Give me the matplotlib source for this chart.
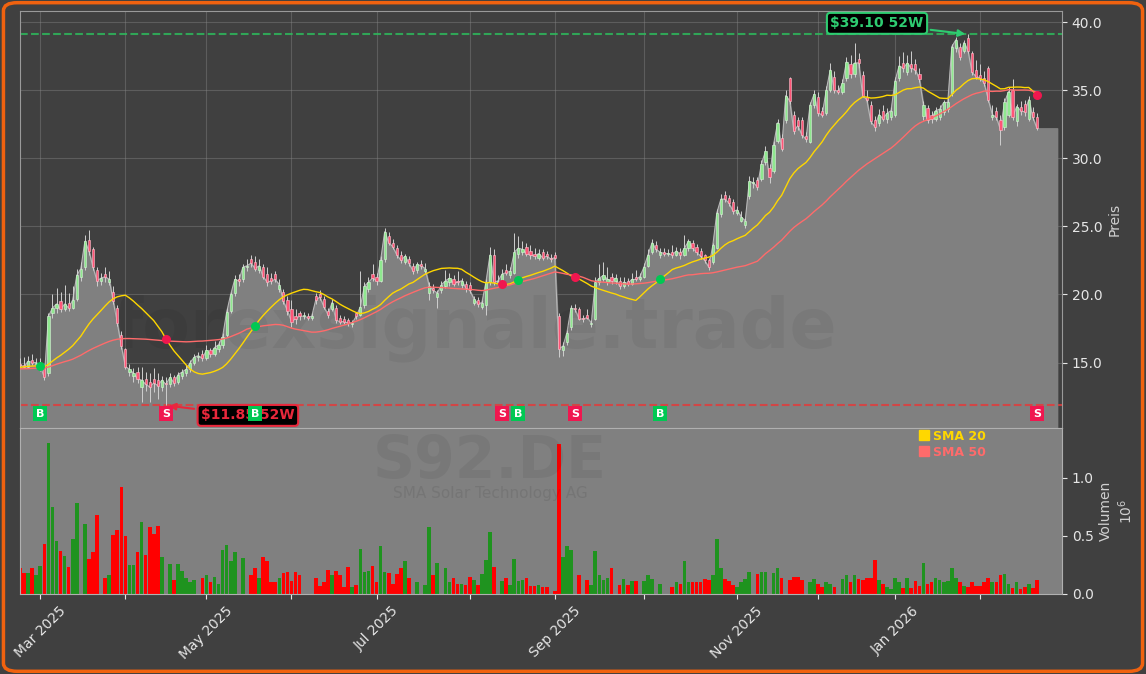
import numpy as np
import pandas as pd
import matplotlib
matplotlib.use("Agg")
import matplotlib.pyplot as plt
from matplotlib.lines import Line2D
from matplotlib.patches import FancyBboxPatch
from matplotlib.ticker import FuncFormatter, FormatStrFormatter

ticker = "S92.DE"
company = "SMA Solar Technology AG"
watermark = "forexsignale.trade"

# Xetra closing days inside the range
holidays = ["2025-04-18", "2025-04-21", "2025-05-01", "2025-12-24",
            "2025-12-25", "2025-12-26", "2025-12-31", "2026-01-01"]

# closes before the visible range (only used for the moving averages)
pre_closes = [14.2, 14.5, 14.1, 13.9, 14.3, 14.6, 14.4, 14.0, 13.8, 14.2,
              14.7, 14.9, 14.5, 14.3, 14.6, 15.0, 14.8, 14.4, 14.2, 14.5,
              14.9, 15.2, 14.8, 14.6, 14.3, 14.1, 14.4, 14.7, 14.5, 14.2,
              14.0, 14.3, 14.6, 14.8, 15.1, 14.9, 14.6, 14.4, 14.7, 15.0,
              14.8, 14.5, 14.3, 14.6, 14.9, 14.7, 14.5, 14.6, 14.8]

opens = [14.9, 14.8, 14.7, 15.2, 14.9, 14.5, 14.7, 14.2, 18.6, 19.0,
         19.5, 18.9, 19.4, 19.0, 19.7, 21.3, 22.0, 24.0, 23.3, 21.8,
         21.0, 21.5, 20.9, 20.2, 19.0, 17.0, 16.0, 14.3, 14.0, 14.3,
         13.2, 13.8, 13.6, 13.8, 13.7, 13.2, 13.5, 13.4, 13.9, 13.6,
         14.0, 14.2, 14.5, 15.0, 15.4, 15.6, 15.3, 15.9, 15.6, 16.0,
         16.3, 17.0, 18.8, 20.1, 21.1, 21.1, 22.0, 22.6, 22.4, 21.8,
         22.0, 21.5, 21.2, 21.5, 20.4, 20.2, 19.6, 18.9, 18.4, 18.6,
         18.4, 18.4, 18.3, 19.9, 20.0, 19.7, 18.8, 18.9, 19.0, 18.3,
         18.2, 18.1, 17.8, 18.6, 18.5, 19.2, 20.4, 21.5, 21.3, 21.0,
         22.6, 24.3, 23.8, 23.4, 22.9, 22.4, 22.6, 22.1, 21.8, 22.2,
         21.7, 20.1, 20.5, 19.8, 20.3, 20.6, 20.9, 21.1, 21.0, 20.7,
         20.8, 20.7, 19.4, 19.6, 19.1, 19.2, 20.9, 22.9, 20.9, 21.0,
         21.8, 21.4, 21.6, 23.0, 23.1, 23.5, 23.2, 23.0, 22.7, 23.1,
         23.0, 22.7, 22.9, 18.4, 15.9, 16.5, 17.6, 19.0, 18.9, 18.3,
         18.5, 17.8, 18.2, 20.9, 21.1, 20.9, 21.3, 21.0, 21.0, 20.6,
         21.0, 20.8, 21.3, 21.1, 21.3, 22.1, 23.1, 23.6, 22.9, 23.1,
         23.0, 23.1, 22.9, 23.1, 22.9, 23.4, 23.8, 23.5, 23.2, 22.9,
         22.5, 22.4, 23.4, 25.9, 27.3, 27.1, 26.8, 26.0, 25.4, 25.1,
         27.2, 28.2, 28.4, 28.5, 29.7, 29.3, 29.1, 31.3, 31.5, 32.8,
         35.9, 33.2, 32.8, 32.8, 31.6, 31.2, 33.9, 34.5, 33.5, 33.3,
         35.0, 36.0, 35.0, 34.9, 35.9, 36.9, 36.2, 37.3, 36.1, 34.5,
         33.9, 32.8, 32.6, 33.5, 32.9, 33.0, 33.2, 35.9, 37.0, 36.3,
         36.9, 36.9, 36.2, 33.1, 33.7, 33.2, 32.9, 33.0, 33.4, 33.6,
         34.8, 38.1, 38.2, 37.9, 38.8, 37.7, 36.5, 36.1, 35.9, 36.6,
         33.0, 33.5, 32.8, 32.3, 33.2, 35.0, 32.7, 33.8, 34.0, 32.9,
         33.4, 33.0]

highs = [15.3, 15.4, 15.5, 15.6, 15.3, 15.3, 14.9, 18.6, 20.0, 20.5,
         20.2, 20.7, 20.1, 20.6, 21.9, 22.4, 24.4, 24.75, 23.5, 22.0,
         21.6, 22.0, 21.7, 20.6, 19.2, 17.3, 16.1, 14.9, 14.6, 14.7,
         14.7, 14.3, 14.2, 14.6, 14.2, 14.0, 13.9, 14.2, 14.1, 14.3,
         14.5, 14.8, 15.2, 15.6, 15.8, 15.9, 16.3, 16.1, 16.6, 16.6,
         17.2, 19.0, 20.2, 21.4, 21.5, 22.2, 22.6, 22.9, 22.8, 22.6,
         22.2, 22.0, 21.6, 21.7, 21.1, 20.4, 19.9, 19.6, 18.9, 18.8,
         18.7, 18.6, 18.6, 20.1, 20.3, 19.9, 19.0, 19.7, 19.2, 18.5,
         18.4, 18.3, 18.1, 18.7, 21.7, 20.9, 21.3, 22.2, 21.6, 22.8,
         24.9, 24.6, 24.1, 23.6, 23.2, 23.0, 22.8, 22.3, 22.4, 22.5,
         22.3, 20.9, 20.8, 20.3, 21.0, 21.8, 21.6, 21.4, 21.7, 21.2,
         21.0, 20.9, 19.9, 19.8, 19.6, 21.1, 23.5, 23.3, 21.4, 21.9,
         22.2, 22.0, 24.5, 24.3, 23.9, 23.8, 23.6, 23.4, 23.3, 23.3,
         23.2, 23.0, 23.1, 18.6, 16.5, 17.4, 19.2, 19.3, 19.1, 18.5,
         18.9, 18.1, 21.3, 22.2, 22.4, 22.0, 21.6, 21.5, 21.3, 21.3,
         21.2, 21.6, 21.8, 21.6, 22.3, 23.3, 24.1, 23.9, 23.4, 23.4,
         23.3, 23.6, 23.5, 23.4, 24.4, 24.1, 24.0, 23.7, 23.4, 23.0,
         22.7, 23.8, 26.3, 27.4, 27.6, 27.3, 27.0, 26.5, 26.1, 25.6,
         28.7, 28.6, 28.6, 29.9, 30.9, 29.6, 31.3, 32.9, 31.8, 35.0,
         36.0, 33.5, 33.0, 33.0, 31.9, 34.1, 35.0, 34.9, 33.8, 35.3,
         37.0, 36.4, 35.4, 35.8, 37.4, 37.6, 38.5, 37.7, 36.4, 35.0,
         34.2, 33.1, 33.6, 33.9, 33.7, 33.8, 36.0, 37.5, 37.8, 37.6,
         37.9, 37.3, 36.6, 34.2, 33.9, 33.5, 33.8, 33.9, 34.3, 34.4,
         38.4, 38.9, 38.5, 38.7, 39.1, 37.9, 37.2, 36.9, 36.4, 36.8,
         33.9, 33.8, 33.2, 34.4, 35.2, 35.8, 34.0, 34.2, 34.3, 34.6,
         33.8, 33.3]

lows = [14.6, 14.6, 14.6, 14.8, 14.7, 14.4, 13.7, 14.0, 18.3, 18.6,
        18.7, 18.8, 18.8, 18.9, 19.5, 21.0, 21.8, 22.9, 21.8, 20.6,
        20.7, 20.9, 20.7, 19.3, 17.7, 16.0, 14.5, 14.0, 13.6, 13.5,
        12.1, 12.9, 12.1, 12.8, 12.3, 12.9, 11.85, 13.2, 13.3, 13.4,
        13.8, 14.0, 14.3, 14.8, 15.1, 15.1, 15.2, 15.4, 15.5, 15.8,
        16.1, 16.9, 18.6, 19.9, 20.6, 20.9, 21.7, 22.0, 21.7, 21.6,
        21.1, 20.6, 20.8, 20.9, 20.2, 19.3, 18.5, 17.6, 17.8, 18.1,
        18.2, 18.1, 18.1, 19.3, 19.6, 18.9, 18.3, 18.8, 17.9, 17.8,
        17.8, 17.7, 17.6, 18.2, 18.4, 19.0, 20.2, 21.0, 20.7, 20.9,
        22.4, 23.6, 23.3, 22.7, 22.3, 22.2, 22.1, 21.5, 21.6, 21.9,
        21.5, 19.6, 20.1, 19.0, 20.1, 20.5, 20.6, 20.6, 20.7, 20.5,
        20.2, 20.1, 19.2, 19.1, 18.9, 18.5, 20.7, 20.7, 20.6, 20.8,
        21.4, 21.2, 21.5, 22.7, 22.9, 22.8, 22.6, 22.6, 22.5, 22.5,
        22.6, 22.4, 22.6, 15.4, 15.5, 16.3, 17.4, 18.7, 18.1, 18.0,
        18.2, 17.6, 18.1, 20.7, 21.0, 20.7, 20.8, 20.8, 20.4, 20.5,
        20.6, 20.7, 21.0, 21.0, 21.2, 22.0, 23.0, 23.1, 22.7, 22.8,
        22.8, 22.7, 22.8, 22.6, 22.8, 23.2, 23.2, 22.9, 22.6, 22.3,
        21.8, 22.2, 23.3, 25.7, 26.8, 26.5, 25.9, 25.8, 25.3, 24.9,
        27.0, 27.8, 27.7, 28.3, 29.5, 28.2, 28.9, 31.1, 30.5, 32.6,
        34.0, 31.8, 32.1, 31.5, 31.2, 31.1, 33.7, 33.1, 33.0, 33.2,
        34.9, 34.8, 34.7, 34.7, 35.7, 35.9, 36.0, 36.6, 34.5, 34.1,
        32.5, 32.0, 32.4, 32.7, 32.6, 32.8, 33.0, 35.7, 36.3, 36.1,
        36.3, 36.2, 35.6, 32.8, 32.6, 32.6, 32.7, 32.8, 33.2, 33.4,
        34.6, 37.8, 37.2, 37.7, 37.7, 36.1, 35.8, 35.7, 35.3, 34.1,
        32.8, 32.8, 31.0, 32.1, 33.0, 32.8, 32.4, 33.2, 33.1, 32.7,
        32.8, 32.1]

closes = [14.8, 14.7, 15.1, 15.0, 15.0, 14.7, 13.9, 18.4, 19.0, 19.3,
          18.9, 19.3, 19.0, 19.6, 21.4, 21.9, 23.9, 23.2, 22.0, 21.0,
          21.2, 21.3, 21.1, 19.5, 17.9, 16.2, 14.7, 14.5, 14.2, 13.8,
          13.7, 13.4, 13.2, 13.5, 13.3, 13.7, 13.4, 13.9, 13.5, 14.1,
          14.3, 14.5, 15.0, 15.4, 15.5, 15.3, 15.9, 15.6, 16.1, 16.3,
          16.9, 18.7, 20.0, 21.1, 21.0, 22.0, 22.1, 22.3, 21.9, 22.1,
          21.3, 20.9, 21.0, 21.1, 20.7, 19.5, 18.8, 18.0, 18.2, 18.4,
          18.4, 18.3, 18.4, 19.6, 19.8, 19.1, 18.5, 19.4, 18.1, 18.0,
          18.0, 17.9, 17.9, 18.4, 19.1, 20.6, 20.9, 21.2, 21.0, 22.5,
          24.6, 23.8, 23.5, 22.9, 22.5, 22.8, 22.3, 21.7, 22.2, 22.1,
          21.9, 20.6, 20.3, 20.1, 20.7, 21.0, 21.2, 20.8, 20.9, 21.0,
          20.5, 20.3, 19.7, 19.3, 19.4, 20.9, 22.9, 20.9, 21.0, 21.5,
          21.6, 21.7, 23.1, 23.4, 23.3, 23.0, 22.9, 22.8, 23.0, 22.7,
          22.8, 22.6, 22.7, 16.0, 16.2, 17.2, 19.0, 18.9, 18.2, 18.2,
          18.3, 17.9, 20.9, 21.2, 21.4, 21.1, 21.0, 21.2, 20.6, 20.9,
          20.8, 21.1, 21.1, 21.3, 22.0, 22.9, 23.8, 23.3, 23.1, 23.0,
          23.0, 22.9, 23.2, 22.9, 23.4, 23.9, 23.4, 23.1, 22.8, 22.5,
          22.0, 23.6, 26.0, 27.0, 27.0, 26.7, 26.1, 26.2, 25.7, 25.4,
          28.3, 28.2, 27.9, 29.6, 30.5, 28.6, 31.0, 32.6, 30.7, 34.6,
          34.2, 32.0, 32.4, 31.7, 31.4, 33.9, 34.7, 33.3, 33.2, 35.0,
          36.5, 35.0, 34.9, 35.5, 37.1, 36.2, 37.0, 37.0, 34.6, 34.3,
          32.7, 32.3, 33.2, 32.9, 33.3, 33.5, 35.7, 36.8, 36.6, 37.0,
          36.6, 36.5, 35.8, 33.9, 32.8, 32.9, 33.5, 33.6, 34.1, 34.1,
          38.2, 38.7, 37.4, 38.5, 37.9, 36.3, 36.0, 35.9, 35.5, 34.3,
          33.2, 33.0, 32.1, 34.1, 34.9, 33.0, 33.8, 33.5, 33.4, 34.3,
          33.0, 32.2]

# volume in millions of shares
volume_m = [0.22, 0.18, 0.18, 0.22, 0.16, 0.24, 0.43, 1.30, 0.75, 0.46,
            0.37, 0.33, 0.23, 0.47, 0.78, 0.00, 0.60, 0.30, 0.36, 0.68,
            0.00, 0.14, 0.16, 0.51, 0.55, 0.92, 0.50, 0.25, 0.25, 0.36,
            0.62, 0.34, 0.58, 0.52, 0.59, 0.32, 0.00, 0.26, 0.12, 0.26,
            0.20, 0.14, 0.10, 0.12, 0.00, 0.14, 0.16, 0.10, 0.15, 0.09,
            0.38, 0.42, 0.28, 0.36, 0.00, 0.31, 0.00, 0.16, 0.22, 0.14,
            0.32, 0.28, 0.10, 0.10, 0.14, 0.18, 0.19, 0.11, 0.19, 0.16,
            0.00, 0.00, 0.00, 0.14, 0.07, 0.10, 0.21, 0.16, 0.20, 0.16,
            0.06, 0.23, 0.06, 0.08, 0.39, 0.19, 0.20, 0.24, 0.10, 0.41,
            0.19, 0.18, 0.09, 0.17, 0.22, 0.28, 0.14, 0.00, 0.10, 0.00,
            0.08, 0.58, 0.16, 0.27, 0.00, 0.22, 0.10, 0.14, 0.09, 0.09,
            0.08, 0.15, 0.12, 0.08, 0.17, 0.29, 0.53, 0.23, 0.00, 0.11,
            0.14, 0.08, 0.30, 0.11, 0.12, 0.14, 0.07, 0.07, 0.08, 0.06,
            0.06, 0.00, 0.03, 1.29, 0.32, 0.41, 0.38, 0.00, 0.16, 0.00,
            0.12, 0.08, 0.37, 0.16, 0.12, 0.14, 0.22, 0.00, 0.08, 0.13,
            0.08, 0.11, 0.11, 0.00, 0.11, 0.16, 0.13, 0.00, 0.09, 0.00,
            0.00, 0.06, 0.10, 0.09, 0.28, 0.10, 0.10, 0.10, 0.10, 0.13,
            0.12, 0.16, 0.47, 0.22, 0.13, 0.11, 0.08, 0.06, 0.10, 0.13,
            0.19, 0.00, 0.17, 0.19, 0.19, 0.00, 0.18, 0.22, 0.14, 0.00,
            0.12, 0.15, 0.15, 0.12, 0.00, 0.10, 0.13, 0.09, 0.06, 0.10,
            0.09, 0.06, 0.00, 0.13, 0.16, 0.10, 0.16, 0.13, 0.12, 0.14,
            0.14, 0.29, 0.12, 0.09, 0.06, 0.04, 0.14, 0.10, 0.05, 0.14,
            0.05, 0.11, 0.07, 0.27, 0.09, 0.10, 0.14, 0.12, 0.10, 0.11,
            0.22, 0.14, 0.10, 0.07, 0.06, 0.10, 0.07, 0.07, 0.10, 0.14,
            0.10, 0.10, 0.16, 0.17, 0.09, 0.05, 0.10, 0.04, 0.06, 0.09,
            0.05, 0.12]

# SMA 20/50 crossings marked on the chart (trading-day index)
signal_idx = [5, 36, 58, 119, 123, 137, 158, 251]
signal_side = ["B", "S", "B", "S", "B", "S", "B", "S"]

dates = pd.bdate_range("2025-02-24", "2026-02-20")
dates = dates[~dates.isin(pd.to_datetime(holidays))]

o = np.array(opens)
h = np.array(highs)
l = np.array(lows)
c = np.array(closes)
vol = np.array(volume_m) * 1e6
n = len(c)
x = np.arange(n)

all_close = pd.Series(pre_closes + closes)
sma20 = all_close.rolling(20).mean().values[len(pre_closes):]
sma50 = all_close.rolling(50).mean().values[len(pre_closes):]

hi_i = int(np.argmax(h))
lo_i = int(np.argmin(l))
hi52 = h[hi_i]
lo52 = l[lo_i]

bg = "#404040"
text_col = "#e6e6e6"
col_sma20 = "#ffd700"
col_sma50 = "#ff6b6b"

fig = plt.figure(figsize=(11.46, 6.74), dpi=100, facecolor=bg)
ax = fig.add_axes([0.0175, 0.365, 0.9092, 0.6188])
axv = fig.add_axes([0.0175, 0.1187, 0.9092, 0.2463], sharex=ax)

border = FancyBboxPatch((0.003, 0.004), 0.994, 0.992,
                        boxstyle="round,pad=0,rounding_size=0.012",
                        transform=fig.transFigure, fill=False,
                        edgecolor="#f0620f", linewidth=2.5)
fig.patches.append(border)

# price panel
ax.set_facecolor(bg)
fill_x = np.arange(n + 5)
fill_y = np.append(c, np.full(5, c[-1]))
ax.fill_between(fill_x, fill_y, 0, color="#808080", zorder=1)
ax.plot(x, c, color="#b8b8b8", lw=0.8, zorder=2)

ax.text(0.437, 0.24, watermark, transform=ax.transAxes, fontsize=50,
        fontweight="bold", color="black", alpha=0.05, ha="center",
        va="center", zorder=2)

up = c >= o
ax.vlines(x, l, h, color="#cfcfcf", lw=0.7, zorder=3)
body_h = np.maximum(np.abs(c - o), 0.06)
ax.bar(x, body_h, bottom=np.minimum(o, c), width=0.55,
       color=["#8fe88f" if u else "#ff5577" for u in up],
       edgecolor=["#d8f5d8" if u else "#ffc4cf" for u in up],
       linewidth=0.4, zorder=4)

ax.plot(x, sma20, color=col_sma20, lw=1.0, zorder=5)
ax.plot(x, sma50, color=col_sma50, lw=1.0, zorder=5)

ax.axhline(hi52, color="#2eb85c", ls="--", lw=1.5, alpha=0.85, zorder=2.5)
ax.axhline(lo52, color="#e03c3c", ls="--", lw=1.5, alpha=0.85, zorder=2.5)

ax.annotate(f"\\${hi52:.2f} 52W", xy=(hi_i, hi52), xytext=(-91, 11),
            textcoords="offset pixels", ha="center", va="center",
            fontsize=10, fontweight="bold", color="#2ecc71",
            bbox=dict(boxstyle="round,pad=0.25", fc="black", ec="#2ecc71", lw=1.5),
            arrowprops=dict(arrowstyle="-|>", color="#2ecc71", lw=1.5),
            zorder=9)
ax.annotate(f"\\${lo52:.2f} 52W", xy=(lo_i, lo52), xytext=(82, -10),
            textcoords="offset pixels", ha="center", va="center",
            fontsize=10, fontweight="bold", color="#e8283c",
            bbox=dict(boxstyle="round,pad=0.25", fc="black", ec="#e8283c", lw=1.5),
            arrowprops=dict(arrowstyle="-|>", color="#e8283c", lw=1.5),
            zorder=9)

ax.set_ylim(lo52 * 0.86, hi52 * 1.044)
ax.set_xlim(0, 257.2)

sig_y = ax.get_ylim()[0] + 1.05
for i, s in zip(signal_idx, signal_side):
    col = "#00c853" if s == "B" else "#f0174f"
    ax.scatter(i, sma20[i], s=30, color=col, zorder=8)
    ax.text(i, sig_y, s, ha="center", va="center", color="white", fontsize=8,
            fontweight="bold", zorder=10,
            bbox=dict(boxstyle="square,pad=0.25", fc=col, ec="none"))

ax.yaxis.tick_right()
ax.yaxis.set_label_position("right")
ax.set_yticks([15, 20, 25, 30, 35, 40])
ax.yaxis.set_major_formatter(FormatStrFormatter("%.1f"))
ax.set_ylabel("Preis", color="#d0d0d0", fontsize=10)
ax.tick_params(axis="y", colors=text_col, labelsize=10)
ax.tick_params(axis="x", which="both", length=0, labelbottom=False)
ax.grid(True, color="#8a8a8a", alpha=0.4, lw=0.8)
ax.set_axisbelow(True)
for sp in ax.spines.values():
    sp.set_color("#9a9a9a")

# volume panel
axv.set_facecolor("#808080")
axv.bar(x, vol, width=0.9, color=["#1f931f" if u else "#ff0000" for u in up], zorder=2)
axv.text(0.451, 0.80, ticker, transform=axv.transAxes, fontsize=42,
         fontweight="bold", color="black", alpha=0.06, ha="center", va="center")
axv.text(0.451, 0.605, company, transform=axv.transAxes, fontsize=11,
         color="black", alpha=0.08, ha="center", va="center")
axv.set_ylim(0, vol.max() * 1.1)
axv.yaxis.tick_right()
axv.yaxis.set_label_position("right")
axv.set_yticks([0, 0.5e6, 1.0e6])
axv.yaxis.set_major_formatter(FuncFormatter(lambda v, p: f"{v / 1e6:.1f}"))
axv.set_ylabel("Volumen\n$10^{6}$", color="#d0d0d0", fontsize=10)
axv.tick_params(axis="y", colors=text_col, labelsize=10)

month_pos = [i for i in range(1, n) if dates[i].month != dates[i - 1].month]
month_lab = [dates[i].strftime("%b %Y") if k % 2 == 0 else "" for k, i in enumerate(month_pos)]
axv.set_xticks(month_pos)
axv.set_xticklabels(month_lab, rotation=45)
ax.set_xticks(month_pos)
axv.tick_params(axis="x", colors=text_col, labelsize=10)
for sp in axv.spines.values():
    sp.set_color("#b0b0b0")

handles = [Line2D([], [], marker="s", ls="none", color=col_sma20, markersize=7),
           Line2D([], [], marker="s", ls="none", color=col_sma50, markersize=7)]
leg = axv.legend(handles, ["SMA 20", "SMA 50"], loc="upper left",
                 bbox_to_anchor=(0.862, 0.99), frameon=False,
                 prop={"weight": "bold", "size": 9}, handletextpad=0.2,
                 labelspacing=0.25, handlelength=1.0, borderpad=0, borderaxespad=0)
for t, col in zip(leg.get_texts(), [col_sma20, col_sma50]):
    t.set_color(col)

plt.savefig("out.png", dpi=100, facecolor=bg)
